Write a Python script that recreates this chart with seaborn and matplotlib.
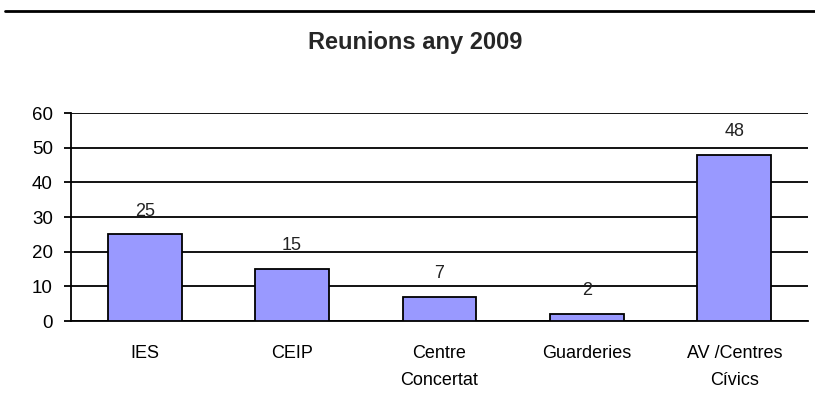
import matplotlib
matplotlib.use("Agg")
import matplotlib.pyplot as plt
import seaborn as sns
import numpy as np
import pandas as pd
from matplotlib.lines import Line2D

categories = ["IES", "CEIP", "Centre\nConcertat", "Guarderies", "AV /Centres\nCívics"]
values = [25, 15, 7, 2, 48]
title = "Reunions any 2009"
yticks = [0, 10, 20, 30, 40, 50, 60]

sns.set_theme(style="white")
plt.rcParams['font.family'] = ['Liberation Sans', 'DejaVu Sans']

fig = plt.figure(figsize=(8.15, 4.16), dpi=100)
ax = fig.add_axes([71/815, 1-321/416, (808-71)/815, (321-113)/416])

df = pd.DataFrame({"cat": categories, "val": values})
sns.barplot(data=df, x="cat", y="val", color="#9999FF", edgecolor="black",
            linewidth=1.3, width=0.5, saturation=1, ax=ax, zorder=3)

ax.set_ylim(0, 60)
ax.set_xlim(-0.5, len(categories) - 0.5)
ax.set_yticks(yticks)
ax.set_yticklabels([str(t) for t in yticks], fontsize=13.5, color="black")
ax.yaxis.grid(True, color="black", linewidth=1.3, zorder=0)
ax.set_axisbelow(True)
ax.set_xlabel("")
ax.set_ylabel("")

ax.set_xticks(range(len(categories)))
ax.set_xticklabels(categories, fontsize=13, linespacing=1.8, color="black")
ax.tick_params(axis="x", which="major", length=0, pad=17)
ax.set_xticks(np.arange(-0.5, len(categories)), minor=True)
ax.tick_params(axis="x", which="minor", length=5, width=1.3, color="black", direction="out")
ax.tick_params(axis="y", which="major", length=5, width=1.3, color="black", direction="out", left=True, pad=8)

for s in ["top", "right"]:
    ax.spines[s].set_visible(False)
for s in ["left", "bottom"]:
    ax.spines[s].set_color("black")
    ax.spines[s].set_linewidth(1.3)

for i, v in enumerate(values):
    ax.annotate(str(v), xy=(i, v), xytext=(0, 10.5), textcoords="offset points",
                ha="center", va="bottom", fontsize=13, color="#222222")

fig.text(415/815, 1-43/416, title, ha="center", va="center", fontsize=17, fontweight="bold")
fig.add_artist(Line2D([5/815, 1.0], [1-11/416, 1-11/416], color="black", linewidth=2, transform=fig.transFigure))

fig.savefig("out.png", dpi=100)
